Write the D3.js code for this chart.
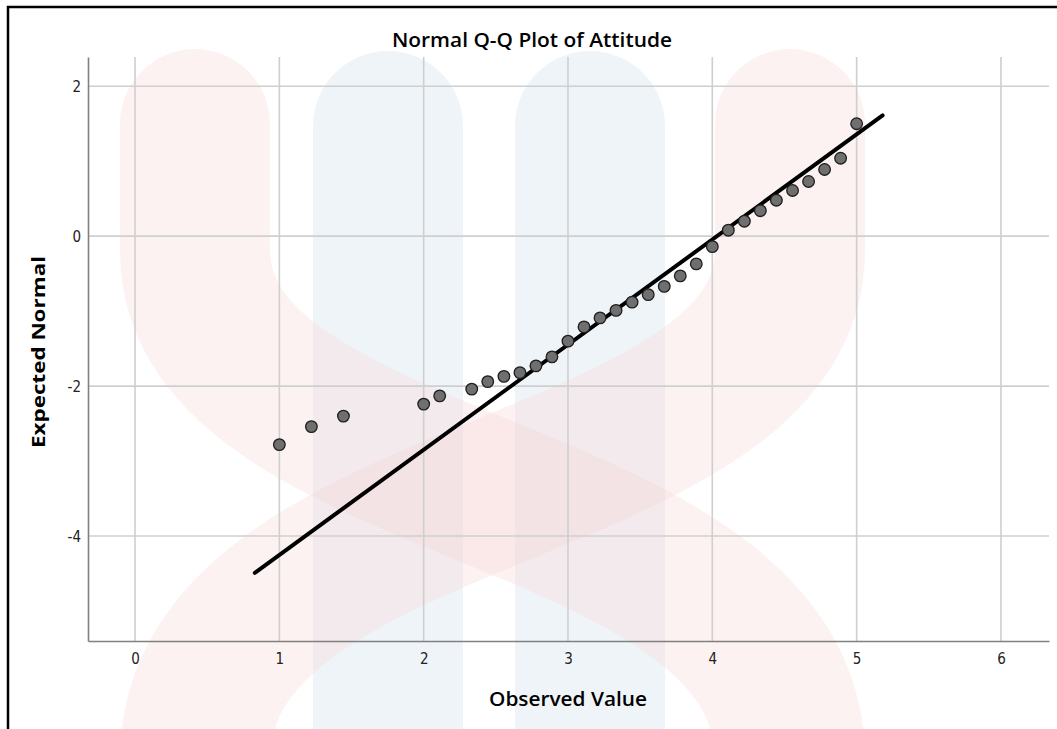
<!DOCTYPE html>
<html>
<head>
<meta charset="utf-8">
<script src="https://cdn.jsdelivr.net/npm/d3@7"></script>
<style>
  html, body { margin: 0; padding: 0; background: #fff; }
  svg { display: block; }
  .tick-label { font-family: "Liberation Sans Narrow", "DejaVu Sans Condensed", "Open Sans", sans-serif; font-size: 15px; fill: #222; }
</style>
</head>
<body>
<svg id="chart" width="1057" height="729"></svg>
<script>
// observed values (Attitude scores) and their expected normal quantiles
const observed = [1, 1.222, 1.444, 2, 2.111, 2.333, 2.444, 2.556, 2.667, 2.778,
  2.889, 3, 3.111, 3.222, 3.333, 3.444, 3.556, 3.667, 3.778, 3.889,
  4, 4.111, 4.222, 4.333, 4.444, 4.556, 4.667, 4.778, 4.889, 5];
const expected = [-2.78, -2.54, -2.40, -2.24, -2.13, -2.04, -1.94, -1.87, -1.82, -1.73,
  -1.61, -1.40, -1.21, -1.09, -0.99, -0.88, -0.78, -0.67, -0.53, -0.37,
  -0.14, 0.08, 0.20, 0.34, 0.48, 0.61, 0.73, 0.89, 1.04, 1.50];

// reference line end points
const lineX = [0.83, 5.18];
const lineY = [-4.49, 1.61];

const xTicks = [0, 1, 2, 3, 4, 5, 6];
const yTicks = [2, 0, -2, -4];

const svg = d3.select("#chart");
const plotLeft = 88, plotRight = 1049, plotTop = 57, plotBottom = 641;

const x = d3.scaleLinear().domain([-0.326, 6.333]).range([plotLeft, plotRight]);
const y = d3.scaleLinear().domain([-5.4, 2.39]).range([plotBottom, plotTop]);

// faint watermark behind the chart
const wm = svg.append("g");
[[313, 463], [515, 665]].forEach(([a, b]) => {
  const r = (b - a) / 2;
  wm.append("path")
    .attr("d", `M${a},729 L${a},${51 + r} A${r},${r} 0 0 1 ${b},${51 + r} L${b},729 Z`)
    .attr("fill", "#eff4f8");
});
wm.selectAll("path.arm")
  .data([[195, 790], [790, 195]])
  .enter()
  .append("path")
  .attr("class", "arm")
  .attr("d", (d) => `M${d[0]},124 L${d[0]},250 C${d[0]},500 ${d[1]},480 ${d[1]},760`)
  .attr("fill", "none")
  .attr("stroke", "#f7d4d4")
  .attr("stroke-opacity", 0.3)
  .attr("stroke-width", 150)
  .attr("stroke-linecap", "round");

// grid
svg.append("g")
  .selectAll("line")
  .data(xTicks)
  .enter()
  .append("line")
  .attr("x1", (d) => x(d))
  .attr("x2", (d) => x(d))
  .attr("y1", plotTop)
  .attr("y2", plotBottom)
  .attr("stroke", "#cfcfcf")
  .attr("stroke-width", 1.6);

svg.append("g")
  .selectAll("line")
  .data(yTicks)
  .enter()
  .append("line")
  .attr("x1", plotLeft)
  .attr("x2", plotRight)
  .attr("y1", (d) => y(d))
  .attr("y2", (d) => y(d))
  .attr("stroke", "#cfcfcf")
  .attr("stroke-width", 1.6);

// axes
const fmt = (d) => String(d);
const xAxis = svg.append("g")
  .attr("transform", `translate(0,${plotBottom})`)
  .call(d3.axisBottom(x).tickValues(xTicks).tickSize(0).tickPadding(12).tickFormat(fmt));
const yAxis = svg.append("g")
  .attr("transform", `translate(${plotLeft},0)`)
  .call(d3.axisLeft(y).tickValues(yTicks).tickSize(0).tickPadding(7).tickFormat(fmt));

[xAxis, yAxis].forEach((g) => {
  g.select(".domain").attr("stroke", "#808080").attr("stroke-width", 1.6);
  g.selectAll(".tick text").attr("class", "tick-label").attr("fill", null);
});
yAxis.selectAll(".tick text").attr("dy", "0.35em");

// reference line
svg.append("line")
  .attr("x1", x(lineX[0]))
  .attr("y1", y(lineY[0]))
  .attr("x2", x(lineX[1]))
  .attr("y2", y(lineY[1]))
  .attr("stroke", "#000")
  .attr("stroke-width", 4)
  .attr("stroke-linecap", "round");

// points
svg.append("g")
  .selectAll("circle")
  .data(observed.map((v, i) => ({ v, e: expected[i] })))
  .enter()
  .append("circle")
  .attr("cx", (d) => x(d.v))
  .attr("cy", (d) => y(d.e))
  .attr("r", 5.8)
  .attr("fill", "#6f6f6f")
  .attr("stroke", "#1e1e1e")
  .attr("stroke-width", 1.3);

// titles
svg.append("text")
  .attr("x", 532)
  .attr("y", 47)
  .attr("text-anchor", "middle")
  .attr("font-family", "Open Sans, sans-serif")
  .attr("font-weight", 600)
  .attr("font-size", 20)
  .attr("textLength", 280)
  .attr("lengthAdjust", "spacingAndGlyphs")
  .text("Normal Q-Q Plot of Attitude");

svg.append("text")
  .attr("x", 568)
  .attr("y", 706)
  .attr("text-anchor", "middle")
  .attr("font-family", "Open Sans, sans-serif")
  .attr("font-weight", 600)
  .attr("font-size", 20)
  .attr("textLength", 158)
  .attr("lengthAdjust", "spacingAndGlyphs")
  .text("Observed Value");

svg.append("text")
  .attr("transform", "translate(45,352) rotate(-90)")
  .attr("text-anchor", "middle")
  .attr("font-family", "Open Sans, sans-serif")
  .attr("font-weight", 700)
  .attr("font-size", 18)
  .attr("textLength", 192)
  .attr("lengthAdjust", "spacingAndGlyphs")
  .text("Expected Normal");

// outer frame
svg.append("path")
  .attr("d", "M8,729 L8,7 L1057,7")
  .attr("fill", "none")
  .attr("stroke", "#000")
  .attr("stroke-width", 2.5);
</script>
</body>
</html>
